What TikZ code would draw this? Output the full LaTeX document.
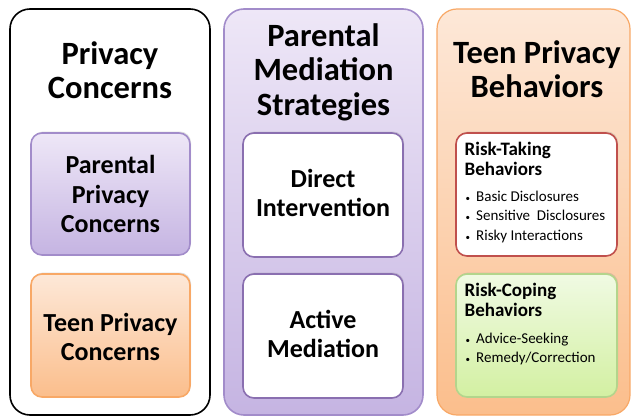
\documentclass[tikz,border=0pt]{standalone}
\usepackage{fontspec}
\setmainfont{Carlito}
\usetikzlibrary{shadows}
\definecolor{lavtop}{HTML}{EEE7F7}
\definecolor{lavbot}{HTML}{C5B4E2}
\definecolor{lavline}{HTML}{A28CCA}
\definecolor{purpline}{HTML}{8A6FB0}
\definecolor{peachtop}{HTML}{FDE8D8}
\definecolor{peachbot}{HTML}{FBBE8C}
\definecolor{peachline}{HTML}{F8A866}
\definecolor{redline}{HTML}{C0504D}
\definecolor{limetop}{HTML}{F0FAE3}
\definecolor{limebot}{HTML}{D3F0A2}
\definecolor{limeline}{HTML}{B3D58C}
\tikzset{
  panel/.style={rounded corners=20, line width=1.6},
  inbox/.style={rounded corners=11, line width=1.6,
    drop shadow={opacity=0.25, shadow xshift=1, shadow yshift=-1.5}},
  bigtitle/.style={align=center, inner sep=0, font=\fontsize{32.5}{34.5}\selectfont\bfseries},
  boxtitle/.style={align=center, inner sep=0, font=\fontsize{26}{29.5}\selectfont\bfseries},
  headtext/.style={align=left, inner sep=0, anchor=north west, font=\fontsize{19}{19.5}\selectfont\bfseries},
  listtext/.style={align=left, inner sep=0, anchor=north west, font=\fontsize{15}{19.3}\selectfont}
}
\newcommand{\bul}{\makebox[10.5pt][l]{\small\textbullet}}
\begin{document}
\begin{tikzpicture}[x=1pt,y=-1pt]
\useasboundingbox (0,0) rectangle (631,417);
% three panels
\draw[panel, black, fill=white] (10,9) rectangle (210,415);
\draw[panel, lavline, top color=lavtop, bottom color=lavbot] (224,9) rectangle (423,415);
\draw[panel, peachline, top color=peachtop, bottom color=peachbot, line width=1.2] (437,9) rectangle (630,415);
% titles
\node[bigtitle] (pctitle) at (110,70) {Privacy\\Concerns};
\node[bigtitle] (pmtitle) at (323.5,72) {Parental\\Mediation\\Strategies};
\node[bigtitle] (tbtitle) at (537,69) {Teen Privacy\\Behaviors};
% privacy concerns
\node[inbox, draw=lavline, top color=lavtop, bottom color=lavbot,
  minimum width=159, minimum height=122] (ppc) at (110.5,194) {};
\node[boxtitle] (ppctext) at (ppc) {Parental\\Privacy\\Concerns};
\node[inbox, draw=peachline, top color=peachtop, bottom color=peachbot,
  minimum width=159, minimum height=123] (tpc) at (110.5,335.5) {};
\node[boxtitle] (tpctext) at (110.5,337) {Teen Privacy\\Concerns};
% mediation strategies
\node[inbox, draw=purpline, fill=white, minimum width=160, minimum height=124] (di) at (323,195) {};
\node[boxtitle] (ditext) at (323,193) {Direct\\Intervention};
\node[inbox, draw=purpline, fill=white, minimum width=160, minimum height=124] (am) at (323,336) {};
\node[boxtitle] (amtext) at (323,334) {Active\\Mediation};
% teen behaviors
\node[inbox, draw=redline, fill=white, minimum width=161, minimum height=123] (rt) at (536.5,194.5) {};
\node[headtext] (rthead) at (464.5,142) {Risk-Taking\\Behaviors};
\node[listtext] (rtlist) at (465.5,191) {\bul Basic Disclosures\\\bul Sensitive~ Disclosures\\\bul Risky Interactions};
\node[inbox, draw=limeline, top color=limetop, bottom color=limebot, minimum width=161, minimum height=123] (rc) at (536.5,335.5) {};
\node[headtext] (rchead) at (464.5,283) {Risk-Coping\\Behaviors};
\node[listtext] (rclist) at (465.5,333) {\bul Advice-Seeking\\\bul Remedy/Correction};
\end{tikzpicture}
\end{document}
